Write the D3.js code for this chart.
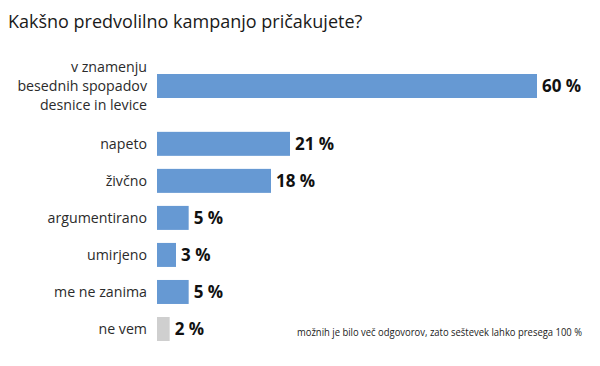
<!DOCTYPE html>
<html>
<head>
<meta charset="utf-8">
<script src="https://cdn.jsdelivr.net/npm/d3@7"></script>
<style>
  body { margin: 0; background: #fff; }
  text { font-family: "Open Sans", "Noto Sans", sans-serif; }
</style>
</head>
<body>
<svg width="600" height="366"></svg>
<script>
const categories = [
  ["v znamenju", "besednih spopadov", "desnice in levice"],
  ["napeto"],
  ["živčno"],
  ["argumentirano"],
  ["umirjeno"],
  ["me ne zanima"],
  ["ne vem"]
];
const values = [60, 21, 18, 5, 3, 5, 2];
const greyRows = [6];

const svg = d3.select("svg");

svg.append("text")
  .attr("x", 8)
  .attr("y", 28)
  .attr("font-size", "18px")
  .attr("fill", "#1a1a1a")
  .text("Kakšno predvolilno kampanjo pričakujete?");

// rows after a multi-line label get extra room
const step = 37.2, lineH = 19;
let acc = 0;
const rows = values.map((v, i) => {
  if (i > 0) acc += step + (categories[i - 1].length - 1) * lineH * 0.55;
  return { lines: categories[i], value: v, offset: acc, grey: greyRows.includes(i) };
});

const y = d3.scaleLinear().domain([0, acc]).range([86, 329]);
const x = d3.scaleLinear().domain([0, 60]).range([157, 537]);
const barH = 24;

const g = svg.append("g");

g.selectAll("rect")
  .data(rows)
  .enter()
  .append("rect")
  .attr("x", x(0))
  .attr("y", d => y(d.offset) - barH / 2)
  .attr("width", d => x(d.value) - x(0))
  .attr("height", barH)
  .attr("fill", d => d.grey ? "#cfcfcf" : "#6699d3");

const labels = g.selectAll("text.cat")
  .data(rows)
  .enter()
  .append("text")
  .attr("class", "cat")
  .attr("text-anchor", "end")
  .attr("font-size", "14.2px")
  .attr("fill", "#2b2b2b")
  .attr("x", 147)
  .attr("y", d => y(d.offset) + 5 - (d.lines.length - 1) * lineH / 2);

labels.selectAll("tspan")
  .data(d => d.lines)
  .enter()
  .append("tspan")
  .attr("x", 147)
  .attr("dy", (d, i) => i === 0 ? 0 : lineH)
  .text(d => d);

g.selectAll("text.val")
  .data(rows)
  .enter()
  .append("text")
  .attr("class", "val")
  .attr("x", d => x(d.value) + 5)
  .attr("y", d => y(d.offset) + 6)
  .attr("font-size", "17px")
  .attr("font-weight", "bold")
  .attr("fill", "#111")
  .text(d => d.value + " %");

svg.append("text")
  .attr("x", 582)
  .attr("y", 336)
  .attr("text-anchor", "end")
  .attr("font-size", "10px")
  .attr("fill", "#222")
  .attr("textLength", 285)
  .attr("lengthAdjust", "spacingAndGlyphs")
  .text("možnih je bilo več odgovorov, zato seštevek lahko presega 100 %");
</script>
</body>
</html>
